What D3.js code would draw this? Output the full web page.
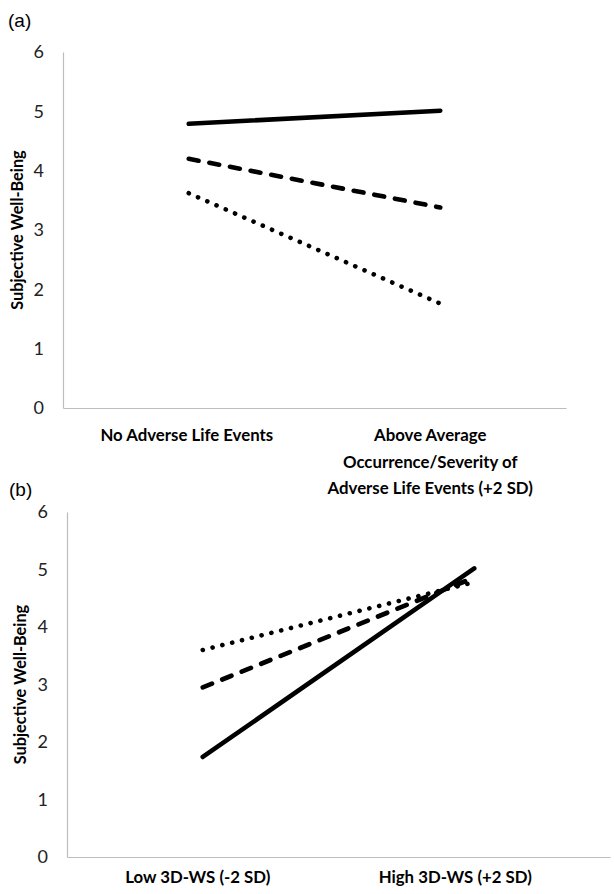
<!DOCTYPE html>
<html>
<head>
<meta charset="utf-8">
<script src="https://cdn.jsdelivr.net/npm/d3@7"></script>
<style>
  html, body { margin: 0; padding: 0; background: #fff; }
  svg { display: block; }
</style>
</head>
<body>
<svg id="chart" width="614" height="894"></svg>
<script>
// ---- data ----
const yTicks = [0, 1, 2, 3, 4, 5, 6];
const categoriesA = ["No Adverse Life Events", "Above Average\nOccurrence/Severity of\nAdverse Life Events (+2 SD)"];
const categoriesB = ["Low 3D-WS (-2 SD)", "High 3D-WS (+2 SD)"];
const aSolid = [4.79, 5.01];
const aDashed = [4.2, 3.38];
const aDotted = [3.62, 1.76];
const bSolid = [1.74, 5.02];
const bDashed = [2.95, 4.86];
const bDotted = [3.6, 4.78];
const yTitle = "Subjective Well-Being";

const svg = d3.select("#chart");
const FONT = "Lato, 'Open Sans', 'Liberation Sans', sans-serif";

const styles = {
  solid:  { width: 4.6, dash: null },
  dashed: { width: 4.6, dash: "10,11" },
  dotted: { width: 4.6, dash: "0.1,10" }
};

function panel(opts) {
  const { label, labelPos, left, right, top, bottom, cats, series, labelShift, titleX, labelY0 } = opts;
  const g = svg.append("g");
  const x = d3.scalePoint().domain(cats).range([left, right]).padding(0.5);
  const y = d3.scaleLinear().domain([0, 6]).range([bottom, top]);

  // panel letter
  g.append("text").attr("x", labelPos[0]).attr("y", labelPos[1])
    .attr("font-family", "Arial, 'Liberation Sans', sans-serif").attr("font-size", 19)
    .attr("fill", "#000").text(label);

  // y axis
  const yAxis = d3.axisLeft(y).tickValues(yTicks).tickSize(0).tickPadding(19).tickFormat(d3.format("d"));
  const ya = g.append("g").attr("transform", `translate(${left},0)`).call(yAxis);
  ya.select(".domain").attr("stroke", "#bdbdbd").attr("stroke-width", 1.2);
  ya.selectAll("text").attr("font-family", FONT).attr("font-size", 18).attr("fill", "#222");

  // x axis
  const xAxis = d3.axisBottom(x).tickSize(0).tickFormat("");
  const xa = g.append("g").attr("transform", `translate(0,${bottom})`).call(xAxis);
  xa.select(".domain").attr("stroke", "#bdbdbd").attr("stroke-width", 1.2);

  // category labels
  cats.forEach((c, i) => {
    const lines = c.split("\n");
    const t = g.append("text")
      .attr("x", x(c) + labelShift[i]).attr("y", labelY0)
      .attr("text-anchor", "middle").attr("font-family", FONT)
      .attr("font-weight", "bold").attr("font-size", 16.8).attr("fill", "#000");
    lines.forEach((ln, j) => {
      t.append("tspan").attr("x", x(c) + labelShift[i]).attr("dy", j === 0 ? 0 : 26.5).text(ln);
    });
  });

  // y title
  g.append("text")
    .attr("transform", `translate(${titleX},${(top + bottom) / 2}) rotate(-90)`)
    .attr("text-anchor", "middle").attr("font-family", FONT)
    .attr("font-weight", "bold").attr("font-size", 16.3).attr("fill", "#000")
    .text(yTitle);

  // lines
  const line = d3.line().x((d, i) => x(cats[i])).y(d => y(d));
  series.forEach(s => {
    const st = styles[s.style];
    g.append("path").datum(s.values)
      .attr("d", line).attr("fill", "none").attr("stroke", "#000")
      .attr("stroke-width", st.width).attr("stroke-linecap", "round")
      .attr("stroke-dasharray", st.dash);
  });
}

panel({
  label: "(a)", labelPos: [8, 27],
  left: 63, right: 566, top: 52, bottom: 408,
  cats: categoriesA,
  series: [
    { values: aDotted, style: "dotted" },
    { values: aDashed, style: "dashed" },
    { values: aSolid, style: "solid" }
  ],
  labelShift: [-2, -10], titleX: 23, labelY0: 441
});

panel({
  label: "(b)", labelPos: [9, 496],
  left: 67, right: 610, top: 512, bottom: 857,
  cats: categoriesB,
  series: [
    { values: bDotted, style: "dotted" },
    { values: bDashed, style: "dashed" },
    { values: bSolid, style: "solid" }
  ],
  labelShift: [-5, -19], titleX: 26, labelY0: 883
});
</script>
</body>
</html>
